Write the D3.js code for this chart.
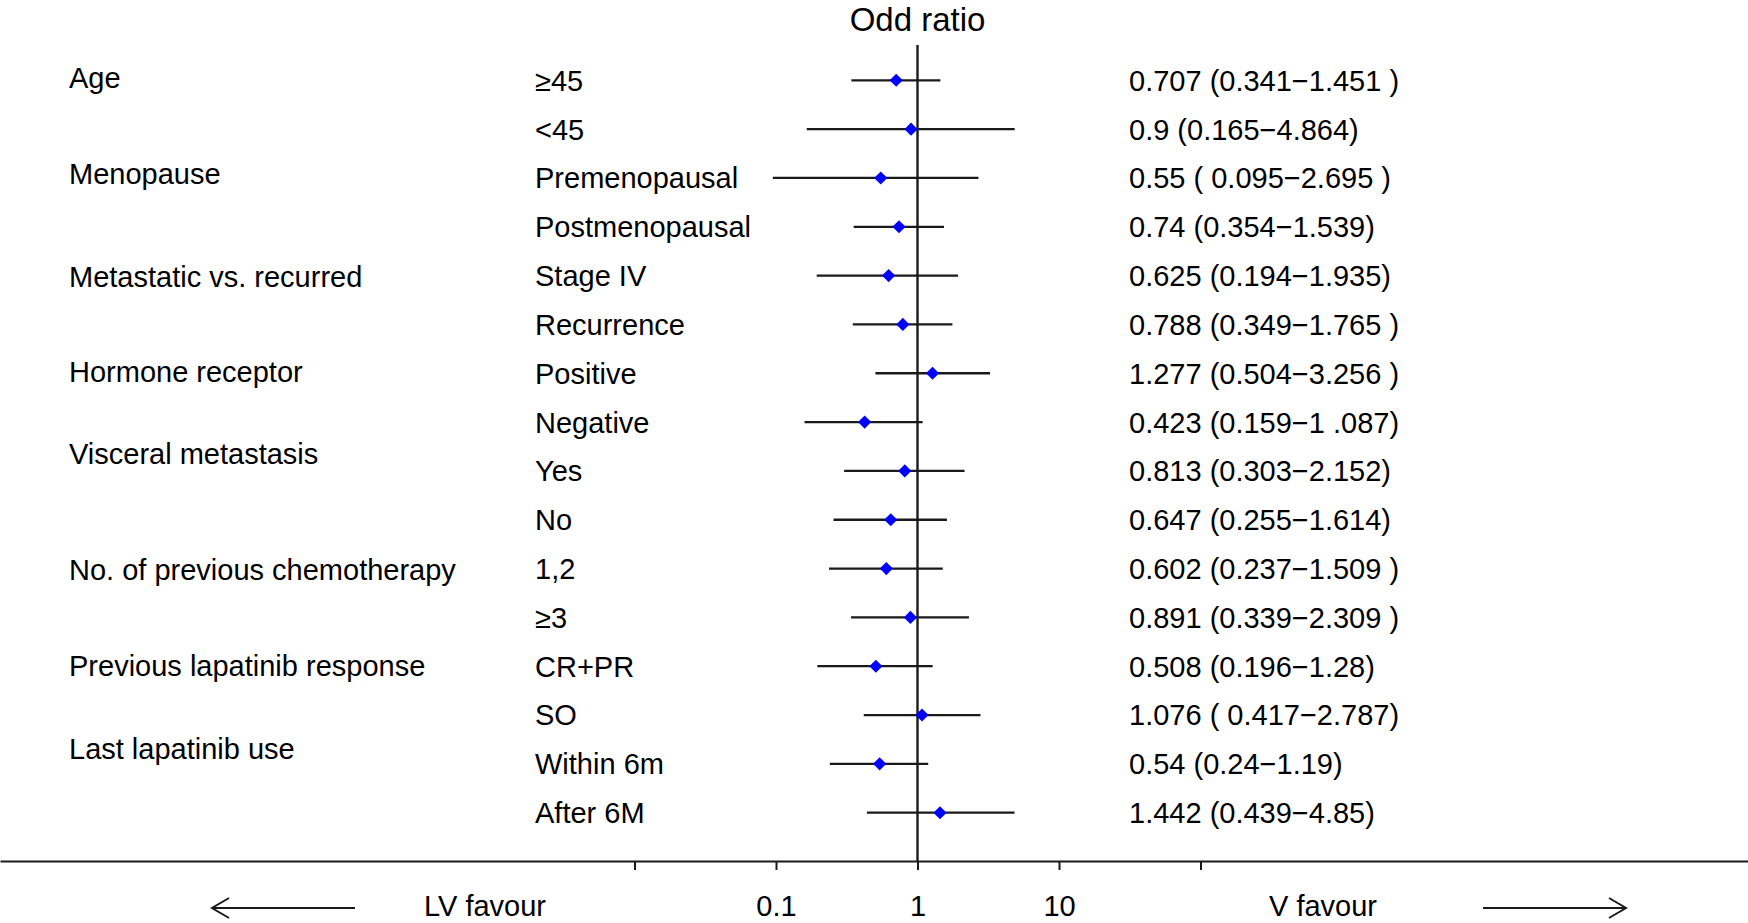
<!DOCTYPE html>
<html>
<head>
<meta charset="utf-8">
<script src="https://cdn.jsdelivr.net/npm/d3@7"></script>
<style>
  body { margin: 0; background: #fff; }
  text { font-family: "Liberation Sans", Arial, Helvetica, sans-serif; fill: #000; }
</style>
</head>
<body>
<div id="chart"></div>
<script>
// subgroup rows, top to bottom
var subgroups = ["\u226545", "<45", "Premenopausal", "Postmenopausal", "Stage IV", "Recurrence",
    "Positive", "Negative", "Yes", "No", "1,2", "\u22653", "CR+PR", "SO", "Within 6m", "After 6M"];
var oddRatio = [0.707, 0.9, 0.55, 0.74, 0.625, 0.788, 1.277, 0.423, 0.813, 0.647, 0.602, 0.891, 0.508, 1.076, 0.54, 1.442];
var lower    = [0.341, 0.165, 0.095, 0.354, 0.194, 0.349, 0.504, 0.159, 0.303, 0.255, 0.237, 0.339, 0.196, 0.417, 0.24, 0.439];
var upper    = [1.451, 4.864, 2.695, 1.539, 1.935, 1.765, 3.256, 1.087, 2.152, 1.614, 1.509, 2.309, 1.28, 2.787, 1.19, 4.85];
var ciText = ["0.707 (0.341\u22121.451 )", "0.9 (0.165\u22124.864)", "0.55 ( 0.095\u22122.695 )", "0.74 (0.354\u22121.539)",
    "0.625 (0.194\u22121.935)", "0.788 (0.349\u22121.765 )", "1.277 (0.504\u22123.256 )", "0.423 (0.159\u22121 .087)",
    "0.813 (0.303\u22122.152)", "0.647 (0.255\u22121.614)", "0.602 (0.237\u22121.509 )", "0.891 (0.339\u22122.309 )",
    "0.508 (0.196\u22121.28)", "1.076 ( 0.417\u22122.787)", "0.54 (0.24\u22121.19)", "1.442 (0.439\u22124.85)"];

// group labels and the row (fractional) where each sits
var groups = ["Age", "Menopause", "Metastatic vs. recurred", "Hormone receptor", "Visceral metastasis",
    "No. of previous chemotherapy", "Previous lapatinib response", "Last lapatinib use"];
var groupRow = [-0.05, 1.92, 4.02, 5.96, 7.65, 10.02, 11.98, 13.68];

var tickValues = [0.01, 0.1, 1, 10, 100];
var tickLabels = ["", "0.1", "1", "10", ""];

var width = 1748, height = 923;
var fontSize = 29;

var svg = d3.select("#chart").append("svg")
    .attr("width", width)
    .attr("height", height);

// log scale: 1 sits at x=917.5, one decade = 141.5px
var x = d3.scaleLog()
    .domain([Math.pow(10, -917.5 / 141.5), Math.pow(10, (width - 917.5) / 141.5)])
    .range([0, width]);

var y = d3.scaleLinear()
    .domain([0, subgroups.length - 1])
    .range([80.3, 812.7]);

var axisY = 861;

// title
svg.append("text")
    .attr("x", x(1))
    .attr("y", 30.5)
    .attr("text-anchor", "middle")
    .style("font-size", "33px")
    .text("Odd ratio");

// group labels
svg.append("g").selectAll("text")
    .data(groups)
    .enter().append("text")
    .attr("x", 69)
    .attr("y", function(d, i) { return y(groupRow[i]); })
    .attr("dy", "0.36em")
    .style("font-size", fontSize + "px")
    .text(function(d) { return d; });

// subgroup labels
svg.append("g").selectAll("text")
    .data(subgroups)
    .enter().append("text")
    .attr("x", 535)
    .attr("y", function(d, i) { return y(i); })
    .attr("dy", "0.36em")
    .style("font-size", fontSize + "px")
    .text(function(d) { return d; });

// OR (CI) text
svg.append("g").selectAll("text")
    .data(ciText)
    .enter().append("text")
    .attr("x", 1129)
    .attr("y", function(d, i) { return y(i); })
    .attr("dy", "0.36em")
    .style("font-size", fontSize + "px")
    .text(function(d) { return d; });

// reference line at 1
svg.append("line")
    .attr("x1", x(1)).attr("x2", x(1))
    .attr("y1", 45).attr("y2", axisY)
    .attr("stroke", "#1a1a1a")
    .attr("stroke-width", 2.4);

// CI lines
svg.append("g").selectAll("line")
    .data(subgroups)
    .enter().append("line")
    .attr("x1", function(d, i) { return x(lower[i]); })
    .attr("x2", function(d, i) { return x(upper[i]); })
    .attr("y1", function(d, i) { return y(i); })
    .attr("y2", function(d, i) { return y(i); })
    .attr("stroke", "#1a1a1a")
    .attr("stroke-width", 2.3);

// point estimates
var diamond = d3.symbol().type(d3.symbolDiamond2).size(110);
svg.append("g").selectAll("path")
    .data(subgroups)
    .enter().append("path")
    .attr("d", diamond)
    .attr("transform", function(d, i) { return "translate(" + x(oddRatio[i]) + "," + y(i) + ")"; })
    .attr("fill", "#0000ff");

// x axis
var axis = svg.append("g")
    .attr("transform", "translate(0," + axisY + ")")
    .call(d3.axisBottom(x)
        .tickValues(tickValues)
        .tickFormat(function(d, i) { return tickLabels[i]; })
        .tickSize(9)
        .tickSizeOuter(0)
        .tickPadding(25.5));
axis.select(".domain").attr("stroke", "#1a1a1a").attr("stroke-width", 2);
axis.selectAll(".tick line").attr("stroke", "#1a1a1a").attr("stroke-width", 2);
axis.selectAll(".tick text")
    .style("font-size", fontSize + "px")
    .style("font-family", "'Liberation Sans', Arial, sans-serif")
    .attr("fill", "#000");

// favour labels and arrows
var labelY = 916;
svg.append("text").attr("x", 424).attr("y", labelY).style("font-size", fontSize + "px").text("LV favour");
svg.append("text").attr("x", 1269).attr("y", labelY).style("font-size", fontSize + "px").text("V favour");

function arrow(x1, x2, yy) {
    var dir = x2 > x1 ? 1 : -1;
    var g = svg.append("g").attr("stroke", "#1a1a1a").attr("stroke-width", 2).attr("fill", "none");
    g.append("line").attr("x1", x1).attr("x2", x2).attr("y1", yy).attr("y2", yy);
    g.append("path").attr("d", "M" + (x2 - dir * 17) + "," + (yy - 10) + "L" + x2 + "," + yy + "L" + (x2 - dir * 17) + "," + (yy + 10));
}
arrow(355, 212, 908);
arrow(1483, 1626, 908);
</script>
</body>
</html>
